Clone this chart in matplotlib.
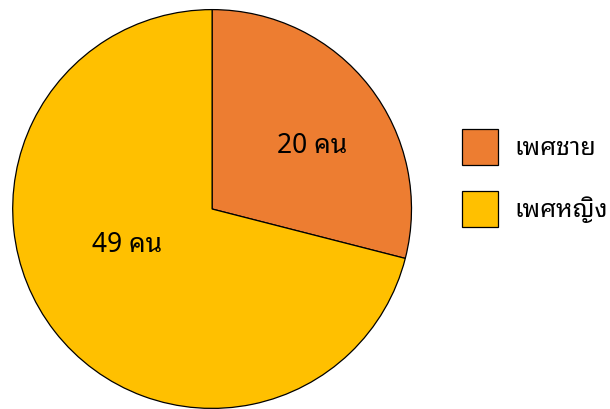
import matplotlib
matplotlib.use('Agg')
import matplotlib.pyplot as plt

plt.rcParams['font.family'] = ['Noto Sans Thai Looped', 'DejaVu Sans']

# ข้อมูล
gruppen = ['เพศชาย', 'เพศหญิง']
cantidad = [20, 49]
colores = ['#ED7D31', '#FFC000']

fig = plt.figure(figsize=(6.1, 4.09), dpi=100)
ax = fig.add_axes([0.0197, 0.0, 0.656, 0.978])

cunas, textos = ax.pie(cantidad, colors=colores, startangle=90, counterclock=False,
                       labels=[f'{c} คน' for c in cantidad], labeldistance=0.6,
                       wedgeprops=dict(edgecolor='black', linewidth=0.9))
for t in textos:
    t.set_fontsize(19)
    t.set_ha('center')
    t.set_va('center')
textos[0].set_position((0.5, 0.315))
textos[1].set_position((-0.425, -0.18))
ax.set_xlim(-1.003, 1.003)
ax.set_ylim(-1.003, 1.003)
ax.set_aspect('equal')

ax.legend(cunas, gruppen, loc='center left', bbox_to_anchor=(0.757, 0.565),
          bbox_transform=fig.transFigure, borderaxespad=0, borderpad=0,
          fontsize=18, frameon=False, handlelength=1.44, handleheight=1.84,
          handletextpad=0.66, labelspacing=1.02)

fig.savefig('out.png', dpi=100)
